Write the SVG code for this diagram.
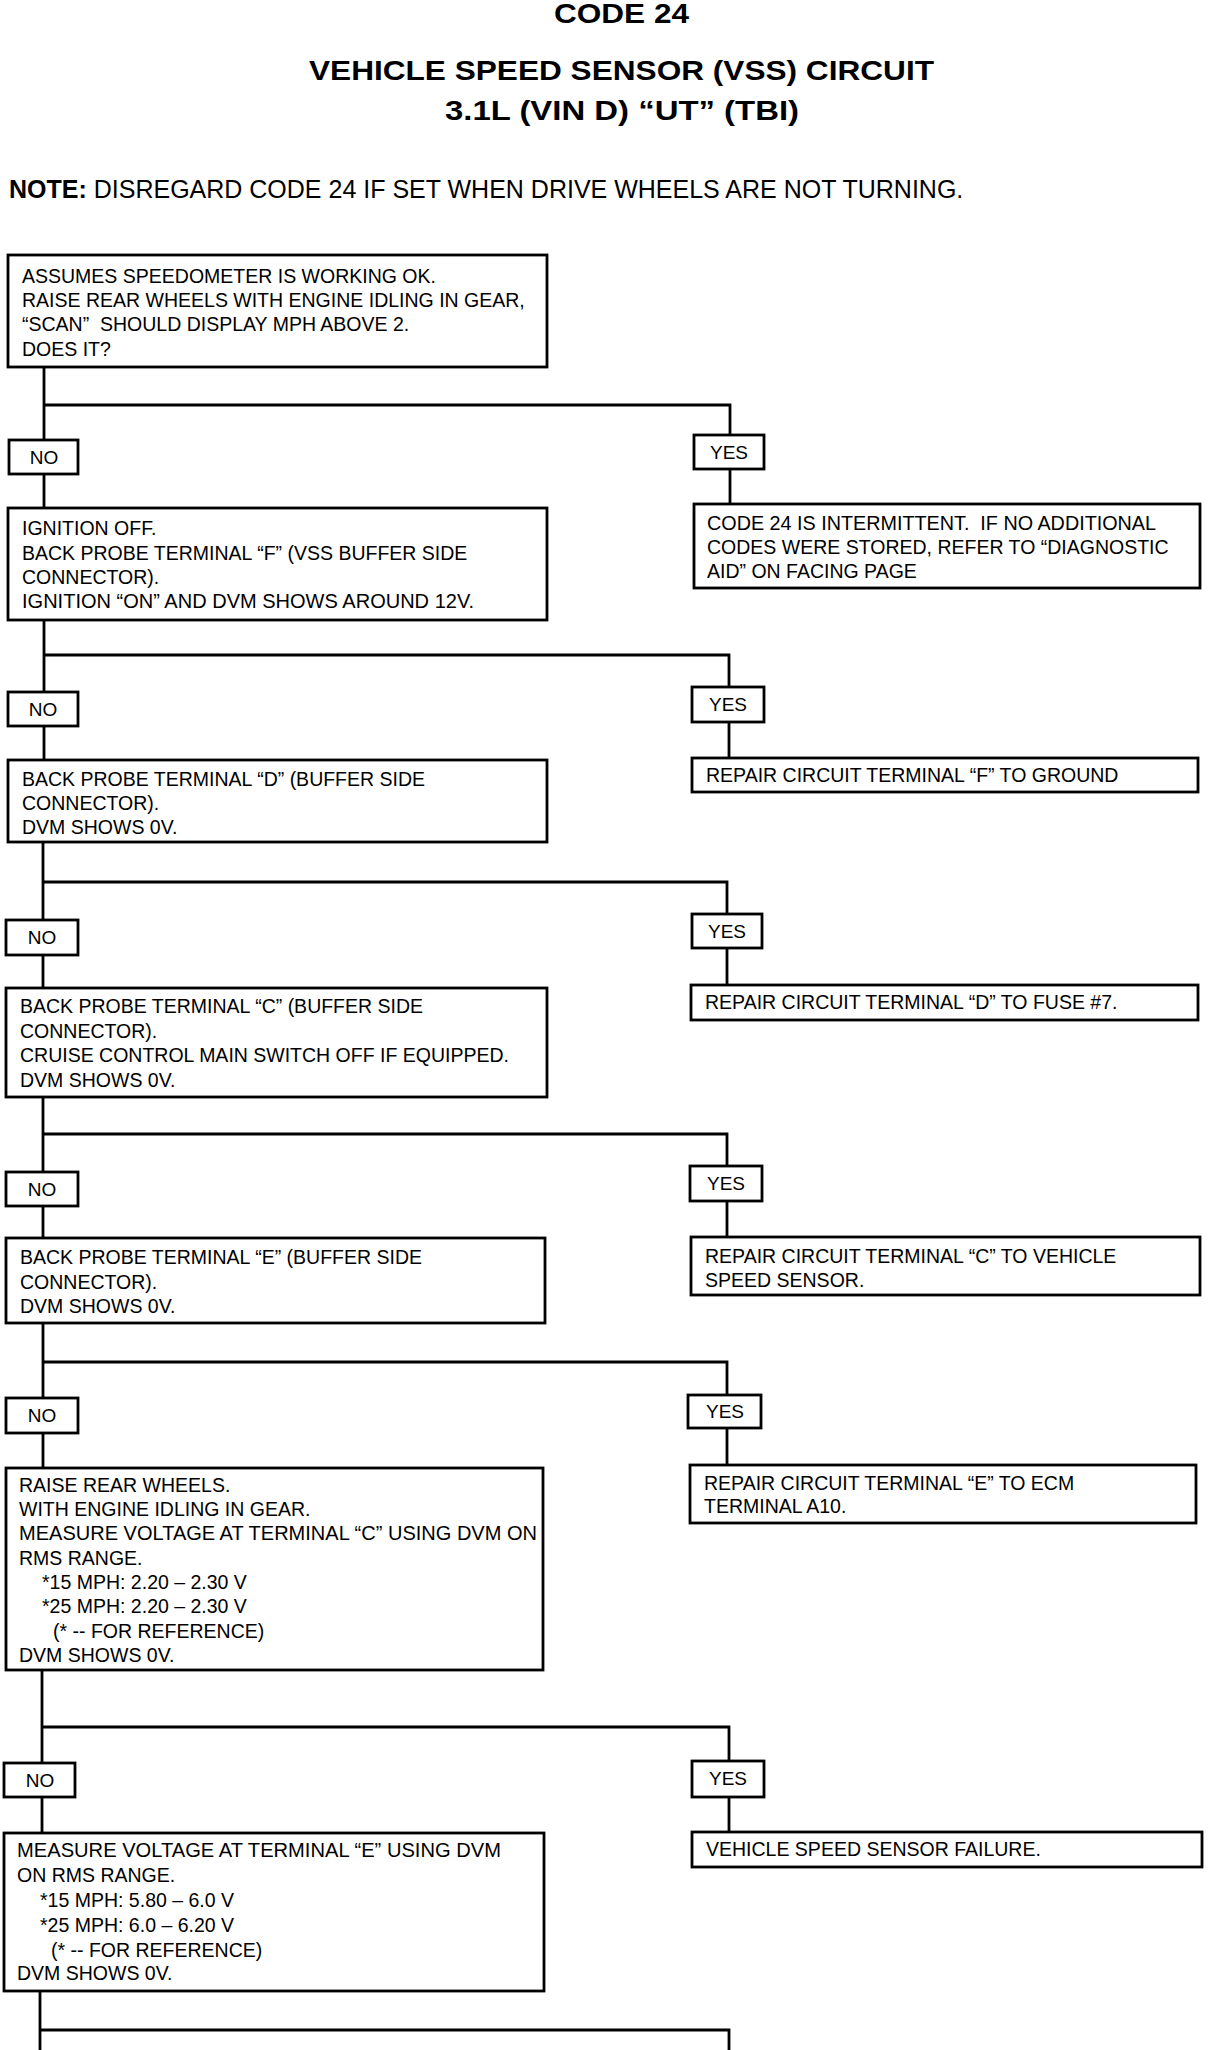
<svg xmlns="http://www.w3.org/2000/svg" width="1216" height="2050" viewBox="0 0 1216 2050">
<style>
.box{fill:#fff;stroke:#000;stroke-width:2.8}
.c{fill:none;stroke:#000;stroke-width:2.8}
text{font-family:"Liberation Sans",Arial,sans-serif;fill:#000;white-space:pre}
.t{font-size:19.5px}
.l{font-size:19px;text-anchor:middle}
.h{font-size:28px;font-weight:bold}
.n{font-size:25px}
</style>
<rect width="1216" height="2050" fill="#fff"/>
<g id="title">
<text class="h" x="554" y="23" textLength="135" lengthAdjust="spacingAndGlyphs">CODE 24</text>
<text class="h" x="309" y="80" textLength="625" lengthAdjust="spacingAndGlyphs">VEHICLE SPEED SENSOR (VSS) CIRCUIT</text>
<text class="h" x="445" y="120" textLength="354" lengthAdjust="spacingAndGlyphs">3.1L (VIN D) “UT” (TBI)</text>
<text class="n" x="9" y="198"><tspan font-weight="bold">NOTE:</tspan> DISREGARD CODE 24 IF SET WHEN DRIVE WHEELS ARE NOT TURNING.</text>
</g>
<g id="connectors">
<path class="c" d="M44,367 V440 M44,405 H730 V435 M44,474 V508 M730,469 V504"/>
<path class="c" d="M44,620 V692 M44,655 H729 V687 M44,726 V760 M729,722 V758"/>
<path class="c" d="M43,842 V920 M43,882 H727 V914 M43,955 V988 M727,948 V985"/>
<path class="c" d="M43,1097 V1172 M43,1134 H727 V1166 M43,1206 V1238 M727,1201 V1237"/>
<path class="c" d="M43,1323 V1398 M43,1362 H727 V1395 M43,1433 V1468 M727,1428 V1465"/>
<path class="c" d="M42,1670 V1763 M42,1727 H729 V1761 M42,1797 V1833 M729,1797 V1832"/>
<path class="c" d="M40,1991 V2050 M40,2030 H729 V2050"/>
</g>
<g id="n1">
<rect class="box" x="8" y="255" width="539" height="112"/>
<text class="t" x="22" y="283">ASSUMES SPEEDOMETER IS WORKING OK.</text>
<text class="t" x="22" y="307">RAISE REAR WHEELS WITH ENGINE IDLING IN GEAR,</text>
<text class="t" x="22" y="331">“SCAN”  SHOULD DISPLAY MPH ABOVE 2.</text>
<text class="t" x="22" y="356">DOES IT?</text>
</g>
<g id="no1"><rect class="box" x="9" y="440" width="69" height="34"/><text class="l" x="44" y="464">NO</text></g>
<g id="yes1"><rect class="box" x="694" y="435" width="70" height="34"/><text class="l" x="729" y="459">YES</text></g>
<g id="n2">
<rect class="box" x="8" y="508" width="539" height="112"/>
<text class="t" x="22" y="535">IGNITION OFF.</text>
<text class="t" x="22" y="560">BACK PROBE TERMINAL “F” (VSS BUFFER SIDE</text>
<text class="t" x="22" y="584">CONNECTOR).</text>
<text class="t" x="22" y="608" textLength="452" lengthAdjust="spacingAndGlyphs">IGNITION “ON” AND DVM SHOWS AROUND 12V.</text>
</g>
<g id="r1">
<rect class="box" x="694" y="504" width="506" height="84"/>
<text class="t" x="707" y="530" textLength="449" lengthAdjust="spacingAndGlyphs">CODE 24 IS INTERMITTENT.  IF NO ADDITIONAL</text>
<text class="t" x="707" y="554">CODES WERE STORED, REFER TO “DIAGNOSTIC</text>
<text class="t" x="707" y="578">AID” ON FACING PAGE</text>
</g>
<g id="no2"><rect class="box" x="8" y="692" width="70" height="34"/><text class="l" x="43" y="716">NO</text></g>
<g id="yes2"><rect class="box" x="692" y="687" width="72" height="35"/><text class="l" x="728" y="711">YES</text></g>
<g id="r2">
<rect class="box" x="692" y="758" width="506" height="34"/>
<text class="t" x="706" y="782">REPAIR CIRCUIT TERMINAL “F” TO GROUND</text>
</g>
<g id="n3">
<rect class="box" x="8" y="760" width="539" height="82"/>
<text class="t" x="22" y="786">BACK PROBE TERMINAL “D” (BUFFER SIDE</text>
<text class="t" x="22" y="810">CONNECTOR).</text>
<text class="t" x="22" y="834">DVM SHOWS 0V.</text>
</g>
<g id="no3"><rect class="box" x="6" y="920" width="72" height="35"/><text class="l" x="42" y="944">NO</text></g>
<g id="yes3"><rect class="box" x="692" y="914" width="70" height="34"/><text class="l" x="727" y="938">YES</text></g>
<g id="r3">
<rect class="box" x="691" y="985" width="507" height="35"/>
<text class="t" x="705" y="1009">REPAIR CIRCUIT TERMINAL “D” TO FUSE #7.</text>
</g>
<g id="n4">
<rect class="box" x="6" y="988" width="541" height="109"/>
<text class="t" x="20" y="1013">BACK PROBE TERMINAL “C” (BUFFER SIDE</text>
<text class="t" x="20" y="1038">CONNECTOR).</text>
<text class="t" x="20" y="1062">CRUISE CONTROL MAIN SWITCH OFF IF EQUIPPED.</text>
<text class="t" x="20" y="1087">DVM SHOWS 0V.</text>
</g>
<g id="no4"><rect class="box" x="6" y="1172" width="72" height="34"/><text class="l" x="42" y="1196">NO</text></g>
<g id="yes4"><rect class="box" x="690" y="1166" width="72" height="35"/><text class="l" x="726" y="1190">YES</text></g>
<g id="r4">
<rect class="box" x="691" y="1237" width="509" height="58"/>
<text class="t" x="705" y="1263">REPAIR CIRCUIT TERMINAL “C” TO VEHICLE</text>
<text class="t" x="705" y="1287">SPEED SENSOR.</text>
</g>
<g id="n5">
<rect class="box" x="6" y="1238" width="539" height="85"/>
<text class="t" x="20" y="1264">BACK PROBE TERMINAL “E” (BUFFER SIDE</text>
<text class="t" x="20" y="1289">CONNECTOR).</text>
<text class="t" x="20" y="1313">DVM SHOWS 0V.</text>
</g>
<g id="no5"><rect class="box" x="6" y="1398" width="72" height="35"/><text class="l" x="42" y="1422">NO</text></g>
<g id="yes5"><rect class="box" x="688" y="1395" width="73" height="33"/><text class="l" x="725" y="1418">YES</text></g>
<g id="r5">
<rect class="box" x="690" y="1465" width="506" height="58"/>
<text class="t" x="704" y="1490">REPAIR CIRCUIT TERMINAL “E” TO ECM</text>
<text class="t" x="704" y="1513">TERMINAL A10.</text>
</g>
<g id="n6">
<rect class="box" x="6" y="1468" width="537" height="202"/>
<text class="t" x="19" y="1492">RAISE REAR WHEELS.</text>
<text class="t" x="19" y="1516">WITH ENGINE IDLING IN GEAR.</text>
<text class="t" x="19" y="1540" textLength="518" lengthAdjust="spacingAndGlyphs">MEASURE VOLTAGE AT TERMINAL “C” USING DVM ON</text>
<text class="t" x="19" y="1565">RMS RANGE.</text>
<text class="t" x="42" y="1589">*15 MPH: 2.20 – 2.30 V</text>
<text class="t" x="42" y="1613">*25 MPH: 2.20 – 2.30 V</text>
<text class="t" x="53" y="1638">(* -- FOR REFERENCE)</text>
<text class="t" x="19" y="1662">DVM SHOWS 0V.</text>
</g>
<g id="no6"><rect class="box" x="4" y="1763" width="71" height="34"/><text class="l" x="40" y="1787">NO</text></g>
<g id="yes6"><rect class="box" x="692" y="1761" width="72" height="36"/><text class="l" x="728" y="1785">YES</text></g>
<g id="r6">
<rect class="box" x="692" y="1832" width="510" height="35"/>
<text class="t" x="706" y="1856">VEHICLE SPEED SENSOR FAILURE.</text>
</g>
<g id="n7">
<rect class="box" x="4" y="1833" width="540" height="158"/>
<text class="t" x="17" y="1857" textLength="484" lengthAdjust="spacingAndGlyphs">MEASURE VOLTAGE AT TERMINAL “E” USING DVM</text>
<text class="t" x="17" y="1882">ON RMS RANGE.</text>
<text class="t" x="40" y="1907">*15 MPH: 5.80 – 6.0 V</text>
<text class="t" x="40" y="1932">*25 MPH: 6.0 – 6.20 V</text>
<text class="t" x="51" y="1957">(* -- FOR REFERENCE)</text>
<text class="t" x="17" y="1980">DVM SHOWS 0V.</text>
</g>
</svg>
